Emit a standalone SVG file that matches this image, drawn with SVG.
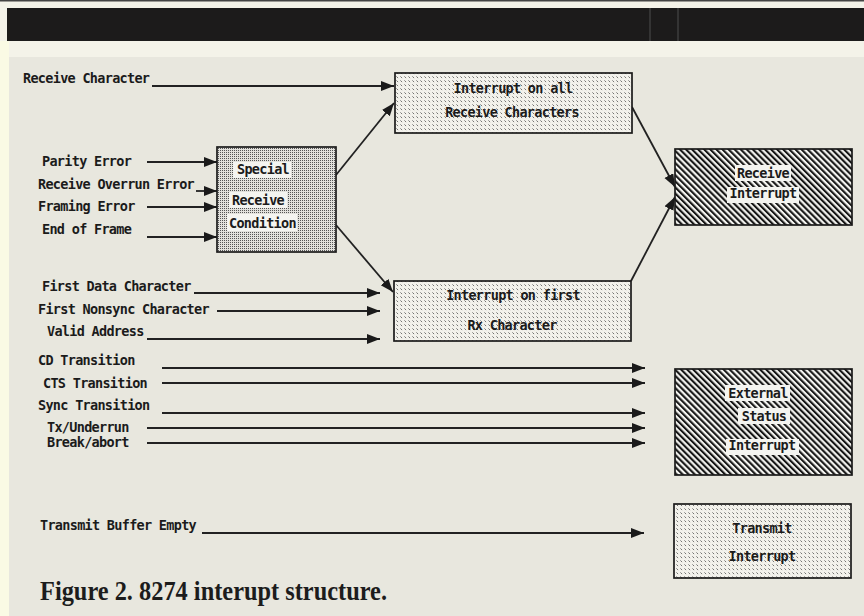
<svg xmlns="http://www.w3.org/2000/svg" width="864" height="616" viewBox="0 0 864 616">
<style>
.lbl{font-family:"DejaVu Sans Mono","Liberation Mono",monospace;font-weight:bold;font-size:13.5px;letter-spacing:-0.7px;fill:#1b1b1b}
.mid{text-anchor:middle}
.box{stroke:#1a1a1a;stroke-width:1.7}
.wire{stroke:#222;stroke-width:1.8;fill:none}
.hl{fill:#f4f4f0}
</style>
<defs>
<marker id="ah" markerUnits="userSpaceOnUse" markerWidth="14" markerHeight="11" refX="13" refY="5" orient="auto">
<path d="M0,0 L13,5 L0,10 z" fill="#1a1a1a"/>
</marker>
<pattern id="dash" patternUnits="userSpaceOnUse" width="4" height="4">
<rect width="4" height="4" fill="#f3f2ec"/>
<path d="M0.4,0.4 L2.1,2.1" stroke="#4a4a4a" stroke-width="0.75"/>
</pattern>
<pattern id="stripe" patternUnits="userSpaceOnUse" width="4.3" height="4.3" patternTransform="rotate(-45)">
<rect width="4.3" height="4.3" fill="#f4f4f0"/>
<rect width="2.1" height="4.3" fill="#161616"/>
</pattern>
<pattern id="dots" patternUnits="userSpaceOnUse" width="2" height="2">
<rect width="2" height="2" fill="#e2e1dc"/>
<rect width="1" height="1" fill="#555"/>
</pattern>
</defs>

<g id="background">
<rect x="0" y="0" width="864" height="616" fill="#e8e7de"/>
<rect x="0" y="0" width="864" height="57" fill="#f4f3e9"/>
<rect x="0" y="0" width="864" height="1.5" fill="#444"/>
<rect x="7" y="8" width="857" height="33" fill="#1c1b1b"/>
<line x1="650" y1="8" x2="650" y2="41" stroke="#5a5a5a" stroke-width="0.8"/>
<line x1="678" y1="8" x2="678" y2="41" stroke="#5a5a5a" stroke-width="0.8"/>
<rect x="0" y="41" width="9" height="575" fill="#fafae4"/>
</g>

<g id="connectors">
<path class="wire" d="M152,86 H394" marker-end="url(#ah)"/>
<path class="wire" d="M147,162 H217" marker-end="url(#ah)"/>
<path class="wire" d="M196,191 H217" marker-end="url(#ah)"/>
<path class="wire" d="M147,207 H217" marker-end="url(#ah)"/>
<path class="wire" d="M147,237 H217" marker-end="url(#ah)"/>
<path class="wire" d="M336,175 L394,103" marker-end="url(#ah)"/>
<path class="wire" d="M336,225 L393,292" marker-end="url(#ah)"/>
<path class="wire" d="M632,107 L675,187" marker-end="url(#ah)"/>
<path class="wire" d="M631,281 L675,197" marker-end="url(#ah)"/>
<path class="wire" d="M194,293 H380" marker-end="url(#ah)"/>
<path class="wire" d="M217,311 H380" marker-end="url(#ah)"/>
<path class="wire" d="M147,339 H380" marker-end="url(#ah)"/>
<path class="wire" d="M162,368 H645" marker-end="url(#ah)"/>
<path class="wire" d="M162,383 H645" marker-end="url(#ah)"/>
<path class="wire" d="M162,413 H645" marker-end="url(#ah)"/>
<path class="wire" d="M147,428 H645" marker-end="url(#ah)"/>
<path class="wire" d="M147,443 H645" marker-end="url(#ah)"/>
<path class="wire" d="M202,533 H644" marker-end="url(#ah)"/>
</g>

<g id="inputs">
<text class="lbl" x="23" y="83">Receive Character</text>
<text class="lbl" x="42" y="166">Parity Error</text>
<text class="lbl" x="38" y="189">Receive Overrun Error</text>
<text class="lbl" x="38" y="211">Framing Error</text>
<text class="lbl" x="42" y="234">End of Frame</text>
<text class="lbl" x="42" y="291">First Data Character</text>
<text class="lbl" x="38" y="314">First Nonsync Character</text>
<text class="lbl" x="47" y="336">Valid Address</text>
<text class="lbl" x="38" y="365">CD Transition</text>
<text class="lbl" x="43" y="388">CTS Transition</text>
<text class="lbl" x="38" y="410">Sync Transition</text>
<text class="lbl" x="47" y="432">Tx/Underrun</text>
<text class="lbl" x="47" y="447">Break/abort</text>
<text class="lbl" x="40" y="530">Transmit Buffer Empty</text>
</g>

<g id="special">
<rect class="box" x="217" y="147" width="119" height="105" fill="url(#dots)"/>
<rect class="hl" x="233" y="162" width="58" height="16"/>
<rect class="hl" x="229" y="192" width="58" height="16"/>
<rect class="hl" x="227" y="214" width="70" height="17"/>
<text class="lbl" x="237" y="174">Special</text>
<text class="lbl" x="232" y="205">Receive</text>
<text class="lbl" x="229" y="228">Condition</text>
</g>

<g id="int-all">
<rect class="box" x="395" y="73" width="237" height="60" fill="url(#dash)"/>
<text class="lbl mid" x="513" y="93">Interrupt on all</text>
<text class="lbl mid" x="512" y="117">Receive Characters</text>
</g>

<g id="int-first">
<rect class="box" x="394" y="281" width="237" height="60" fill="url(#dash)"/>
<text class="lbl mid" x="513" y="300">Interrupt on first</text>
<text class="lbl mid" x="512" y="330">Rx Character</text>
</g>

<g id="receive-int">
<rect class="box" x="675" y="149" width="177" height="76" fill="url(#stripe)"/>
<rect class="hl" x="735" y="165" width="56" height="16"/>
<rect class="hl" x="727" y="187" width="72" height="16"/>
<text class="lbl mid" x="763" y="178">Receive</text>
<text class="lbl mid" x="763" y="198">Interrupt</text>
</g>

<g id="external-int">
<rect class="box" x="675" y="369" width="177" height="106" fill="url(#stripe)"/>
<rect class="hl" x="725" y="385" width="65" height="16"/>
<rect class="hl" x="738" y="408" width="52" height="16"/>
<rect class="hl" x="726" y="439" width="73" height="16"/>
<text class="lbl mid" x="758" y="398">External</text>
<text class="lbl mid" x="764" y="421">Status</text>
<text class="lbl mid" x="762" y="450">Interrupt</text>
</g>

<g id="transmit-int">
<rect class="box" x="674" y="504" width="177" height="74" fill="url(#dash)"/>
<text class="lbl mid" x="762" y="533">Transmit</text>
<text class="lbl mid" x="762" y="561">Interrupt</text>
</g>

<text x="40" y="600" font-family="Liberation Serif, serif" font-weight="bold" font-size="27" fill="#1c1c1c" textLength="347" lengthAdjust="spacingAndGlyphs">Figure 2. 8274 interupt structure.</text>
</svg>
